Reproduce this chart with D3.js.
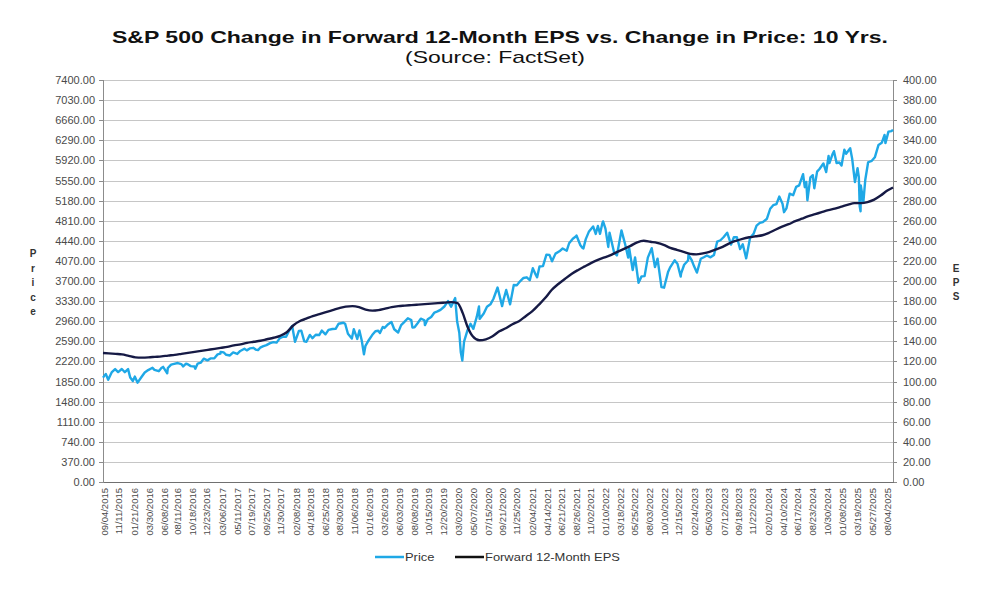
<!DOCTYPE html>
<html lang="en">
<head>
<meta charset="utf-8">
<script src="https://d3js.org/d3.v7.min.js"></script>
<style>
    body {
        margin: 0;
        background: #fff;
        font-family: "Liberation Sans", Arial, sans-serif;
    }
    .grid line {
        stroke: #c6c6c6;
        shape-rendering: crispEdges;
    }
    .axis path,
    .axis line {
        stroke: #8c8c8c;
        shape-rendering: crispEdges;
    }
    .axis text {
        fill: #4a4a4a;
    }
</style>
</head>
<body>
<svg width="1000" height="589"></svg>
<script>

    // tick labels shown on the category axis
    var xTickLabels = ["09/04/2015", "11/11/2015", "01/21/2016", "03/30/2016", "06/08/2016", "08/11/2016",
        "10/18/2016", "12/23/2016", "03/06/2017", "05/11/2017", "07/19/2017", "09/25/2017", "11/30/2017",
        "02/08/2018", "04/18/2018", "06/25/2018", "08/30/2018", "11/06/2018", "01/16/2019", "03/26/2019",
        "06/03/2019", "08/08/2019", "10/15/2019", "12/20/2019", "03/02/2020", "05/07/2020", "07/15/2020",
        "09/21/2020", "11/25/2020", "02/04/2021", "04/14/2021", "06/21/2021", "08/26/2021", "11/02/2021",
        "01/10/2022", "03/18/2022", "05/25/2022", "08/03/2022", "10/10/2022", "12/15/2022", "02/24/2023",
        "05/03/2023", "07/12/2023", "09/18/2023", "11/22/2023", "02/01/2024", "04/10/2024", "06/17/2024",
        "08/23/2024", "10/30/2024", "01/08/2025", "03/19/2025", "05/27/2025", "08/04/2025"];

    var priceTicks = d3.range(0, 7401, 370);
    var epsTicks = d3.range(0, 401, 20);

    // S&P 500 price
    var priceData = [
        ["2015-09-04", 1921], ["2015-09-17", 1990], ["2015-09-28", 1881], ["2015-10-15", 2023], ["2015-10-30", 2079],
        ["2015-11-13", 2023], ["2015-11-30", 2080], ["2015-12-14", 2021], ["2015-12-29", 2078],
        ["2016-01-08", 1922], ["2016-01-20", 1859], ["2016-01-29", 1940], ["2016-02-11", 1829], ["2016-02-29", 1932],
        ["2016-03-15", 2015], ["2016-03-31", 2060], ["2016-04-20", 2102], ["2016-04-29", 2065], ["2016-05-19", 2040],
        ["2016-05-31", 2097], ["2016-06-08", 2119], ["2016-06-27", 2001], ["2016-06-30", 2099], ["2016-07-15", 2162],
        ["2016-07-29", 2174], ["2016-08-15", 2190], ["2016-08-31", 2171], ["2016-09-09", 2128], ["2016-09-22", 2177],
        ["2016-09-30", 2168], ["2016-10-14", 2133], ["2016-10-31", 2126], ["2016-11-04", 2085], ["2016-11-15", 2180],
        ["2016-11-30", 2199], ["2016-12-13", 2271], ["2016-12-30", 2239],
        ["2017-01-13", 2275], ["2017-01-31", 2279], ["2017-02-15", 2349], ["2017-02-28", 2364], ["2017-03-01", 2396],
        ["2017-03-15", 2385], ["2017-03-27", 2342], ["2017-04-13", 2329], ["2017-04-28", 2384], ["2017-05-17", 2357],
        ["2017-05-31", 2412], ["2017-06-19", 2453], ["2017-06-30", 2423], ["2017-07-14", 2459], ["2017-07-31", 2470],
        ["2017-08-10", 2438], ["2017-08-21", 2428], ["2017-08-31", 2472], ["2017-09-15", 2500], ["2017-09-29", 2519],
        ["2017-10-16", 2557], ["2017-10-31", 2575], ["2017-11-15", 2565], ["2017-11-30", 2648], ["2017-12-15", 2676],
        ["2017-12-29", 2674],
        ["2018-01-12", 2786], ["2018-01-26", 2873], ["2018-02-08", 2581], ["2018-02-26", 2780], ["2018-03-09", 2786],
        ["2018-03-23", 2588], ["2018-04-02", 2582], ["2018-04-18", 2708], ["2018-04-30", 2648], ["2018-05-15", 2711],
        ["2018-05-31", 2705], ["2018-06-12", 2787], ["2018-06-29", 2718], ["2018-07-13", 2801], ["2018-07-31", 2816],
        ["2018-08-15", 2818], ["2018-08-29", 2914], ["2018-09-20", 2931], ["2018-09-28", 2914], ["2018-10-11", 2728],
        ["2018-10-29", 2641], ["2018-11-07", 2814], ["2018-11-23", 2633], ["2018-12-03", 2790], ["2018-12-14", 2600],
        ["2018-12-24", 2351], ["2018-12-31", 2507],
        ["2019-01-15", 2610], ["2019-01-31", 2704], ["2019-02-15", 2776], ["2019-02-28", 2784], ["2019-03-08", 2743],
        ["2019-03-21", 2855], ["2019-03-29", 2834], ["2019-04-15", 2906], ["2019-04-30", 2946], ["2019-05-13", 2812],
        ["2019-05-31", 2752], ["2019-06-14", 2887], ["2019-06-28", 2942], ["2019-07-15", 3014], ["2019-07-31", 2980],
        ["2019-08-05", 2845], ["2019-08-15", 2848], ["2019-08-30", 2926], ["2019-09-13", 3007], ["2019-09-30", 2977],
        ["2019-10-02", 2887], ["2019-10-15", 2996], ["2019-10-31", 3038], ["2019-11-15", 3120], ["2019-11-29", 3141],
        ["2019-12-13", 3169], ["2019-12-31", 3231],
        ["2020-01-17", 3330], ["2020-01-31", 3226], ["2020-02-19", 3386], ["2020-02-28", 2954], ["2020-03-09", 2747],
        ["2020-03-16", 2386], ["2020-03-23", 2237], ["2020-03-31", 2585], ["2020-04-15", 2783], ["2020-04-30", 2912],
        ["2020-05-13", 2820], ["2020-05-29", 3044], ["2020-06-08", 3232], ["2020-06-11", 3002], ["2020-06-30", 3100],
        ["2020-07-15", 3227], ["2020-07-31", 3271], ["2020-08-14", 3373], ["2020-09-02", 3580], ["2020-09-23", 3237],
        ["2020-09-30", 3363], ["2020-10-12", 3534], ["2020-10-30", 3270], ["2020-11-16", 3627], ["2020-11-30", 3622],
        ["2020-12-15", 3695], ["2020-12-31", 3756],
        ["2021-01-15", 3768], ["2021-01-29", 3714], ["2021-02-12", 3934], ["2021-02-26", 3811], ["2021-03-04", 3768],
        ["2021-03-15", 3968], ["2021-03-31", 3973], ["2021-04-16", 4185], ["2021-04-30", 4181], ["2021-05-12", 4063],
        ["2021-05-28", 4204], ["2021-06-15", 4246], ["2021-06-30", 4298], ["2021-07-19", 4258], ["2021-07-30", 4395],
        ["2021-08-16", 4479], ["2021-08-31", 4523], ["2021-09-02", 4537], ["2021-09-20", 4358], ["2021-09-30", 4308],
        ["2021-10-04", 4300], ["2021-10-15", 4471], ["2021-10-29", 4605], ["2021-11-18", 4705], ["2021-11-30", 4567],
        ["2021-12-10", 4712], ["2021-12-20", 4568], ["2021-12-31", 4766],
        ["2022-01-03", 4797], ["2022-01-14", 4663], ["2022-01-27", 4327], ["2022-02-02", 4590], ["2022-02-23", 4225],
        ["2022-03-08", 4170], ["2022-03-29", 4631], ["2022-04-14", 4393], ["2022-04-29", 4132], ["2022-05-04", 4301],
        ["2022-05-20", 3901], ["2022-05-31", 4132], ["2022-06-16", 3667], ["2022-06-30", 3785], ["2022-07-14", 3790],
        ["2022-07-29", 4130], ["2022-08-16", 4305], ["2022-08-31", 3955], ["2022-09-12", 4110], ["2022-09-30", 3586],
        ["2022-10-12", 3577], ["2022-10-31", 3872], ["2022-11-10", 3956], ["2022-11-30", 4080], ["2022-12-13", 4019],
        ["2022-12-28", 3783], ["2022-12-30", 3840],
        ["2023-01-13", 3999], ["2023-01-31", 4077], ["2023-02-02", 4180], ["2023-02-16", 4090], ["2023-02-28", 3970],
        ["2023-03-13", 3855], ["2023-03-31", 4109], ["2023-04-14", 4138], ["2023-04-28", 4169], ["2023-05-15", 4136],
        ["2023-05-31", 4180], ["2023-06-15", 4426], ["2023-06-30", 4450], ["2023-07-14", 4505], ["2023-07-31", 4589],
        ["2023-08-18", 4370], ["2023-08-31", 4508], ["2023-09-14", 4505], ["2023-09-29", 4288], ["2023-10-11", 4377],
        ["2023-10-27", 4117], ["2023-11-14", 4496], ["2023-11-30", 4568], ["2023-12-14", 4720], ["2023-12-29", 4770],
        ["2024-01-12", 4784], ["2024-01-31", 4846], ["2024-02-15", 5030], ["2024-02-29", 5096], ["2024-03-15", 5117],
        ["2024-03-28", 5254], ["2024-04-12", 5123], ["2024-04-19", 4967], ["2024-04-30", 5036], ["2024-05-15", 5308],
        ["2024-05-31", 5278], ["2024-06-14", 5432], ["2024-06-28", 5460], ["2024-07-16", 5667], ["2024-07-24", 5427],
        ["2024-07-31", 5522], ["2024-08-05", 5186], ["2024-08-19", 5608], ["2024-08-30", 5648], ["2024-09-06", 5408],
        ["2024-09-19", 5713], ["2024-09-30", 5762], ["2024-10-18", 5864], ["2024-10-31", 5705], ["2024-11-11", 6001],
        ["2024-11-15", 5870], ["2024-11-29", 6032], ["2024-12-06", 6090], ["2024-12-18", 5872], ["2024-12-31", 5882],
        ["2025-01-10", 5827], ["2025-01-23", 6119], ["2025-01-31", 6041], ["2025-02-19", 6144], ["2025-02-28", 5955],
        ["2025-03-10", 5615], ["2025-03-13", 5522], ["2025-03-25", 5776], ["2025-03-31", 5612], ["2025-04-04", 5074],
        ["2025-04-08", 4982], ["2025-04-09", 5457], ["2025-04-21", 5158], ["2025-04-30", 5569], ["2025-05-13", 5886],
        ["2025-05-30", 5912], ["2025-06-13", 5977], ["2025-06-30", 6205], ["2025-07-15", 6244], ["2025-07-28", 6390],
        ["2025-08-01", 6238], ["2025-08-15", 6450], ["2025-08-29", 6460], ["2025-09-05", 6482]
    ];

    // forward 12-month EPS
    var epsData = [
        ["2015-09-04", 128.4], ["2015-10-01", 128], ["2015-11-01", 127.5], ["2015-12-01", 127], ["2016-01-01", 125.5],
        ["2016-02-01", 124], ["2016-03-01", 123.8], ["2016-04-01", 124], ["2016-05-01", 124.5], ["2016-06-01", 125],
        ["2016-07-01", 125.8], ["2016-08-01", 126.5], ["2016-09-01", 127.5], ["2016-10-01", 128.5], ["2016-11-01", 129.5],
        ["2016-12-01", 130.5], ["2017-01-01", 131.5], ["2017-02-01", 132.5], ["2017-03-01", 133.5], ["2017-04-01", 134.5],
        ["2017-05-01", 136], ["2017-06-01", 137], ["2017-07-01", 138.5], ["2017-08-01", 139.5], ["2017-09-01", 140.5],
        ["2017-10-01", 142], ["2017-11-01", 143.5], ["2017-12-01", 145.5], ["2018-01-01", 149], ["2018-02-01", 156],
        ["2018-03-01", 160], ["2018-04-01", 162.5], ["2018-05-01", 165], ["2018-06-01", 167], ["2018-07-01", 169],
        ["2018-08-01", 171], ["2018-09-01", 173], ["2018-10-01", 174.5], ["2018-11-01", 175], ["2018-12-01", 174],
        ["2019-01-01", 171.5], ["2019-02-01", 170.5], ["2019-03-01", 171], ["2019-04-01", 172.5], ["2019-05-01", 174],
        ["2019-06-01", 175], ["2019-07-01", 175.5], ["2019-08-01", 176], ["2019-09-01", 176.5], ["2019-10-01", 177],
        ["2019-11-01", 177.5], ["2019-12-01", 178], ["2020-01-01", 178.5], ["2020-02-01", 179], ["2020-03-01", 178],
        ["2020-03-25", 168], ["2020-04-15", 155], ["2020-05-10", 145], ["2020-06-10", 141], ["2020-07-10", 142],
        ["2020-08-10", 145], ["2020-09-10", 150], ["2020-10-10", 153], ["2020-11-10", 157], ["2020-12-10", 160],
        ["2021-01-10", 165], ["2021-02-10", 170], ["2021-03-10", 176], ["2021-04-10", 183], ["2021-05-10", 191],
        ["2021-06-10", 197], ["2021-07-10", 202], ["2021-08-10", 207], ["2021-09-10", 211], ["2021-10-10", 214.5],
        ["2021-11-10", 218], ["2021-12-10", 221], ["2022-01-10", 223.5], ["2022-02-10", 226], ["2022-03-10", 229],
        ["2022-04-10", 232], ["2022-05-10", 235], ["2022-06-10", 238.5], ["2022-07-10", 240], ["2022-08-10", 239],
        ["2022-09-10", 238], ["2022-10-10", 236], ["2022-11-10", 233], ["2022-12-10", 231], ["2023-01-10", 229],
        ["2023-02-10", 227], ["2023-03-10", 226.5], ["2023-04-10", 227.5], ["2023-05-10", 229], ["2023-06-10", 231.5],
        ["2023-07-10", 234], ["2023-08-10", 237.5], ["2023-09-10", 240], ["2023-10-10", 242], ["2023-11-10", 243.5],
        ["2023-12-10", 244.5], ["2024-01-10", 245.5], ["2024-02-10", 248], ["2024-03-10", 251], ["2024-04-10", 254],
        ["2024-05-10", 256.5], ["2024-06-10", 259.5], ["2024-07-10", 262], ["2024-08-10", 264.5], ["2024-09-10", 266.5],
        ["2024-10-10", 268.5], ["2024-11-10", 270.5], ["2024-12-10", 272], ["2025-01-10", 274], ["2025-02-10", 276],
        ["2025-03-10", 277.5], ["2025-04-10", 277.5], ["2025-05-10", 278.5], ["2025-06-10", 281], ["2025-07-10", 285],
        ["2025-08-10", 290], ["2025-09-05", 293]
    ];

    var margin = {top: 80, right: 107, bottom: 107, left: 103},
        width = 1000 - margin.left - margin.right,
        height = 589 - margin.top - margin.bottom;

    var parseDay = d3.timeParse("%Y-%m-%d");
    var parseTick = d3.timeParse("%m/%d/%Y");

    var x = d3.scaleTime()
        .domain([parseDay("2015-09-04"), parseDay("2025-09-05")])
        .range([0, width]);
    var yPrice = d3.scaleLinear().domain([0, 7400]).range([height, 0]);
    var yEps = d3.scaleLinear().domain([0, 400]).range([height, 0]);

    var svg = d3.select("svg");
    var g = svg.append("g")
        .attr("transform", "translate(" + margin.left + "," + margin.top + ")");

    // horizontal grid lines
    g.append("g")
        .attr("class", "grid")
        .selectAll("line")
        .data(priceTicks)
        .enter().append("line")
        .attr("x1", 0)
        .attr("x2", width)
        .attr("y1", function (d) { return Math.round(yPrice(d)) + 0.5; })
        .attr("y2", function (d) { return Math.round(yPrice(d)) + 0.5; });

    // left axis
    g.append("g")
        .attr("class", "axis")
        .call(d3.axisLeft(yPrice).tickValues(priceTicks).tickSize(4).tickFormat(d3.format(".2f")))
        .call(function (a) { a.selectAll("text").style("font-size", "11px").attr("x", -8); });

    // right axis
    g.append("g")
        .attr("class", "axis")
        .attr("transform", "translate(" + width + ",0)")
        .call(d3.axisRight(yEps).tickValues(epsTicks).tickSize(4).tickFormat(d3.format(".2f")))
        .call(function (a) { a.selectAll("text").style("font-size", "11px").attr("x", 10); });

    // bottom axis with date labels
    g.append("g")
        .attr("class", "axis")
        .attr("transform", "translate(0," + height + ")")
        .call(d3.axisBottom(x)
            .tickValues(xTickLabels.map(parseTick))
            .tickSize(0)
            .tickFormat(d3.timeFormat("%m/%d/%Y")))
        .call(function (a) {
            a.select(".domain").style("stroke", "#707070");
            a.selectAll("text")
                .style("font-size", "9.5px")
                .style("text-anchor", "end")
                .attr("transform", "rotate(-90)")
                .attr("x", -6)
                .attr("y", 1)
                .attr("dy", "0.32em");
        });

    var priceLine = d3.line()
        .x(function (d) { return x(parseDay(d[0])); })
        .y(function (d) { return yPrice(d[1]); });

    var epsLine = d3.line()
        .curve(d3.curveMonotoneX)
        .x(function (d) { return x(parseDay(d[0])); })
        .y(function (d) { return yEps(d[1]); });

    g.append("path")
        .datum(priceData)
        .attr("d", priceLine)
        .style("fill", "none")
        .style("stroke", "#1fa8e6")
        .style("stroke-width", 2.4)
        .style("stroke-linejoin", "round");

    g.append("path")
        .datum(epsData)
        .attr("d", epsLine)
        .style("fill", "none")
        .style("stroke", "#161a45")
        .style("stroke-width", 2.4);

    // titles, stretched wide like the source picture
    svg.append("text")
        .attr("x", 500).attr("y", 43)
        .style("text-anchor", "middle")
        .style("font-size", "17px")
        .style("font-weight", "bold")
        .style("fill", "#111")
        .attr("textLength", 776)
        .attr("lengthAdjust", "spacingAndGlyphs")
        .text("S&P 500 Change in Forward 12-Month EPS vs. Change in Price: 10 Yrs.");

    svg.append("text")
        .attr("x", 495).attr("y", 63)
        .style("text-anchor", "middle")
        .style("font-size", "17px")
        .style("fill", "#111")
        .attr("textLength", 180)
        .attr("lengthAdjust", "spacingAndGlyphs")
        .text("(Source: FactSet)");

    // stacked axis titles
    svg.append("text")
        .attr("x", 33).attr("y", 257)
        .style("text-anchor", "middle")
        .style("font-size", "10px")
        .style("font-weight", "bold")
        .style("fill", "#333")
        .selectAll("tspan")
        .data("Price".split(""))
        .enter().append("tspan")
        .attr("x", 33)
        .attr("dy", function (d, i) { return i === 0 ? 0 : 14.5; })
        .text(function (d) { return d; });

    svg.append("text")
        .attr("x", 956).attr("y", 272)
        .style("text-anchor", "middle")
        .style("font-size", "10px")
        .style("font-weight", "bold")
        .style("fill", "#333")
        .selectAll("tspan")
        .data("EPS".split(""))
        .enter().append("tspan")
        .attr("x", 956)
        .attr("dy", function (d, i) { return i === 0 ? 0 : 14; })
        .text(function (d) { return d; });

    // legend
    var legendItems = [
        {name: "Price", color: "#1fa8e6", x: 375},
        {name: "Forward 12-Month EPS", color: "#111", x: 455}
    ];
    var legend = svg.selectAll(".legend")
        .data(legendItems)
        .enter().append("g")
        .attr("class", "legend")
        .attr("transform", function (d) { return "translate(" + d.x + ",557)"; });

    legend.append("line")
        .attr("x1", 0).attr("x2", 29)
        .style("stroke", function (d) { return d.color; })
        .style("stroke-width", 2.5);

    legend.append("text")
        .attr("x", 30)
        .attr("dy", "0.35em")
        .style("font-size", "10.5px")
        .style("fill", "#333")
        .text(function (d) { return d.name; })
        .each(function () {
            // widen like the source picture
            var w = this.getComputedTextLength();
            d3.select(this)
                .attr("textLength", w * 1.23)
                .attr("lengthAdjust", "spacingAndGlyphs");
        });

</script>
</body>
</html>
